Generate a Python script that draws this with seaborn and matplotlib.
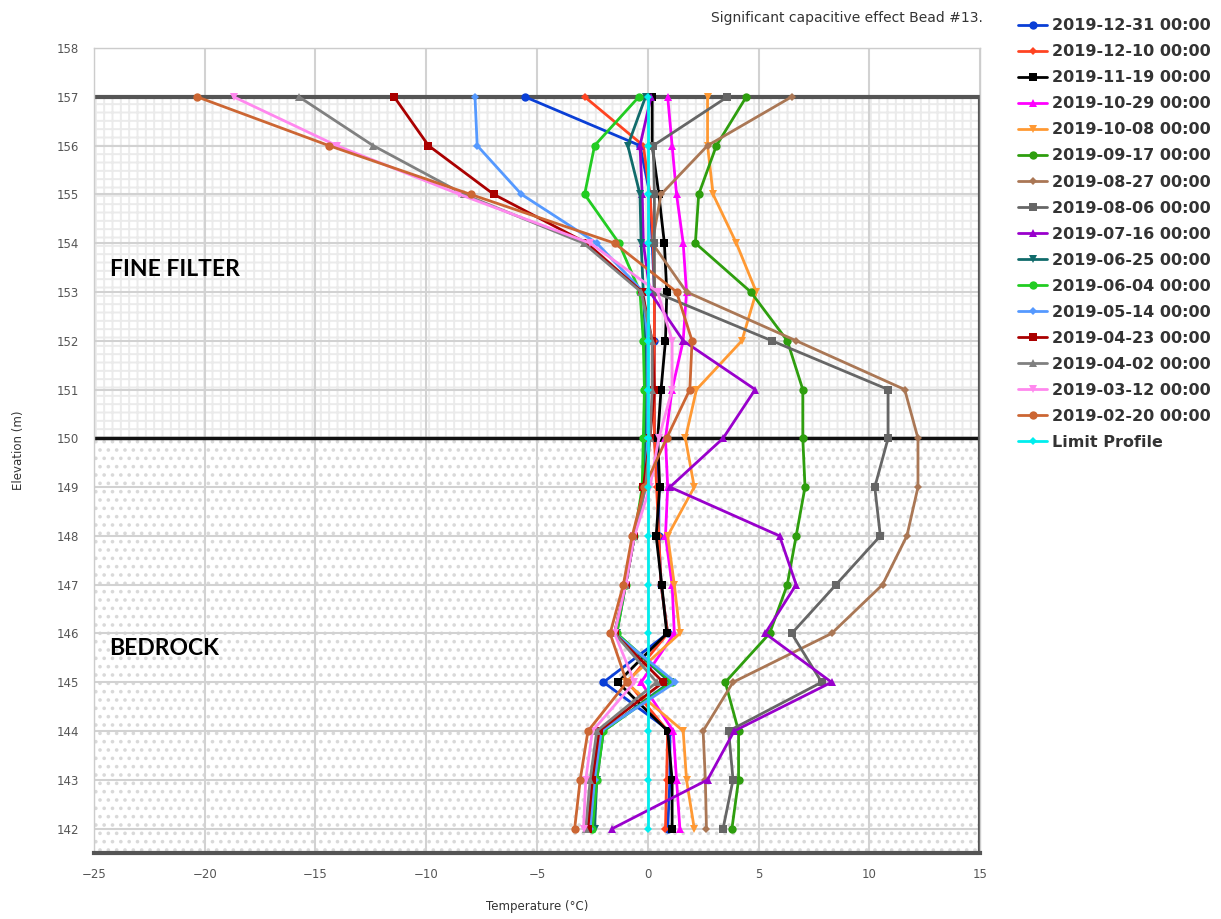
import numpy as np
import pandas as pd
import matplotlib
matplotlib.use('Agg')
import matplotlib.pyplot as plt
import seaborn as sns

# elevations of the beads (m), top to bottom
elevation = [157, 156, 155, 154, 153, 152, 151, 150, 149, 148, 147, 146, 145, 144, 143, 142]

series_names = ['2019-12-31 00:00', '2019-12-10 00:00', '2019-11-19 00:00', '2019-10-29 00:00',
                '2019-10-08 00:00', '2019-09-17 00:00', '2019-08-27 00:00', '2019-08-06 00:00',
                '2019-07-16 00:00', '2019-06-25 00:00', '2019-06-04 00:00', '2019-05-14 00:00',
                '2019-04-23 00:00', '2019-04-02 00:00', '2019-03-12 00:00', '2019-02-20 00:00',
                'Limit Profile']

# temperatures (C), same order as elevation
t_1231 = [-5.55, -0.35, 0.1, 0.2, 0.3, 0.3, 0.3, 0.3, 0.5, 0.5, 0.6, 0.9, -2.0, 1.0, 1.0, 0.9]
t_1210 = [-2.85, -0.2, 0.1, 0.25, 0.3, 0.3, 0.3, 0.3, 0.4, 0.5, 0.6, 0.9, -0.9, 0.9, 0.85, 0.8]
t_1119 = [0.2, 0.2, 0.5, 0.75, 0.86, 0.8, 0.6, 0.45, 0.54, 0.38, 0.63, 0.86, -1.35, 0.9, 1.1, 1.1]
t_1029 = [0.9, 1.1, 1.3, 1.6, 1.75, 1.6, 1.1, 0.8, 0.9, 0.8, 1.1, 1.2, -0.3, 1.15, 1.3, 1.45]
t_1008 = [2.7, 2.7, 2.95, 4.0, 4.9, 4.25, 2.2, 1.7, 2.1, 0.9, 1.2, 1.45, -1.0, 1.6, 1.75, 2.1]
t_0917 = [4.45, 3.1, 2.3, 2.15, 4.65, 6.3, 7.0, 7.0, 7.1, 6.7, 6.3, 5.5, 3.5, 4.1, 4.1, 3.8]
t_0827 = [6.5, 2.7, 0.6, 0.2, 1.75, 6.7, 11.6, 12.2, 12.2, 11.7, 10.6, 8.3, 3.85, 2.5, 2.6, 2.65]
t_0806 = [3.6, 0.25, 0.3, 0.3, 0.3, 5.6, 10.85, 10.85, 10.25, 10.5, 8.5, 6.5, 7.85, 3.65, 3.85, 3.4]
t_0716 = [0.15, -0.35, -0.25, -0.2, 0.1, 1.6, 4.85, 3.4, 1.0, 5.95, 6.7, 5.3, 8.3, 3.9, 2.7, -1.6]
t_0625 = [-0.1, -0.9, -0.35, -0.3, -0.2, -0.1, -0.1, -0.1, -0.2, -0.6, -1.0, -1.4, 1.0, -2.0, -2.3, -2.4]
t_0604 = [-0.4, -2.4, -2.85, -1.3, -0.35, -0.2, -0.15, -0.2, -0.25, -0.6, -1.0, -1.4, 1.1, -2.0, -2.3, -2.5]
t_0514 = [-7.8, -7.7, -5.7, -2.3, -0.2, 0.0, 0.0, 0.0, -0.1, -0.6, -1.0, -1.5, 1.25, -2.1, -2.4, -2.6]
t_0423 = [-11.45, -9.9, -6.95, -2.75, -0.25, 0.2, 0.3, 0.1, -0.2, -0.6, -1.0, -1.5, 0.7, -2.2, -2.5, -2.7]
t_0402 = [-15.75, -12.4, -8.3, -2.9, -0.3, 0.2, 0.2, 0.1, -0.1, -0.6, -1.0, -1.5, 0.4, -2.3, -2.6, -2.8]
t_0312 = [-18.7, -14.05, -8.5, -2.6, 0.45, 1.1, 1.1, 0.5, 0.1, -0.6, -1.0, -1.5, -0.6, -2.5, -2.8, -2.9]
t_0220 = [-20.35, -14.4, -8.0, -1.5, 1.3, 2.0, 1.9, 0.85, -0.15, -0.7, -1.1, -1.7, -0.95, -2.7, -3.05, -3.3]
t_limit = [0, 0, 0, 0, 0, 0, 0, 0, 0, 0, 0, 0, 0, 0, 0, 0]

colors = ['#0a3fd6', '#ff4422', '#000000', '#ff00ff', '#ff9933', '#2e9e0e', '#aa7755', '#666666',
          '#9900cc', '#116b6b', '#22cc22', '#5599ff', '#aa0000', '#808080', '#ff88ee', '#cc6633',
          '#00eeee']
markers = ['o', 'D', 's', '^', 'v', 'o', 'D', 's', '^', 'v', 'o', 'D', 's', '^', 'v', 'o', 'D']

profiles = [t_1231, t_1210, t_1119, t_1029, t_1008, t_0917, t_0827, t_0806, t_0716,
            t_0625, t_0604, t_0514, t_0423, t_0402, t_0312, t_0220, t_limit]

frames = []
for name, temps in zip(series_names, profiles):
    frames.append(pd.DataFrame({'Temperature': temps, 'Elevation': elevation, 'Series': name}))
df = pd.concat(frames, ignore_index=True)

sns.set_style('white')
plt.rcParams['font.family'] = ['DejaVu Sans']
plt.rcParams['hatch.linewidth'] = 1.4

fig = plt.figure(figsize=(12.21, 9.19), dpi=100)
ax = fig.add_axes([94 / 1221, 1 - 853 / 919, (980 - 94) / 1221, (853 - 48) / 919])

ymin, ymax = 141.5, 158
ax.set_xlim(-25, 15)
ax.set_ylim(ymin, ymax)

# layer backgrounds
ax.axhspan(150, 157, facecolor='white', edgecolor='#ebebeb', hatch='++', lw=0, zorder=0)
ax.axhspan(ymin, 150, facecolor='white', edgecolor='#d9d9d9', hatch='..', lw=0, zorder=0)

ax.set_axisbelow(True)
ax.grid(True, color='#d2d2d2', lw=1.5)
ax.set_xticks(range(-25, 16, 5))
ax.set_yticks(range(142, 159))

sns.lineplot(data=df, x='Temperature', y='Elevation', hue='Series', style='Series',
             palette=dict(zip(series_names, colors)), markers=dict(zip(series_names, markers)),
             dashes=False, sort=False, estimator=None, lw=2, markersize=6,
             markeredgewidth=0, ax=ax, zorder=3)

# smaller diamonds, and the limit profile barely shows its markers
for line in ax.lines:
    if line.get_marker() == 'D':
        line.set_markersize(4.5)
    if line.get_label() == 'Limit Profile':
        line.set_markersize(2.5)

# layer boundaries and frame
ax.axhline(157, color='#555555', lw=3, zorder=2)
ax.axhline(150, color='#111111', lw=2.5, zorder=2)
ax.axvline(15, ymin=0, ymax=(157 - ymin) / (ymax - ymin), color='#555555', lw=3, zorder=2)

for side in ['left', 'top', 'right']:
    ax.spines[side].set_color('#cccccc')
    ax.spines[side].set_linewidth(1)
ax.spines['bottom'].set_color('#555555')
ax.spines['bottom'].set_linewidth(3)

ax.tick_params(axis='both', length=0, labelsize=8.5, labelcolor='#555555')
ax.tick_params(axis='y', pad=11)
ax.tick_params(axis='x', pad=11)

ax.set_xlabel('Temperature (°C)', fontsize=8.5, color='#333333')
ax.set_ylabel('Elevation (m)', fontsize=8.5, color='#333333')
ax.xaxis.set_label_coords(0.5, -0.058)
ax.yaxis.set_label_coords(-0.078, 0.5)

ax.text(-24.3, 153.45, 'FINE FILTER', fontsize=16.5, fontweight='bold', family='Lato',
        va='center', ha='left', color='black', zorder=4)
ax.text(-24.3, 145.7, 'BEDROCK', fontsize=16.5, fontweight='bold', family='Lato',
        va='center', ha='left', color='black', zorder=4)

fig.text(983 / 1221, 1 - 18 / 919, 'Significant capacitive effect Bead #13.',
         ha='right', va='center', fontsize=10, color='#333333')

handles, labels = ax.get_legend_handles_labels()
ax.get_legend().remove()
for h in handles:
    if h.get_marker() == 'D':
        h.set_markersize(4.5)
fig.legend(handles, labels, loc='upper left', bbox_to_anchor=(1012 / 1221, 1 - 12 / 919),
           frameon=False, prop=dict(weight='bold', size=11.5), labelspacing=0.69,
           handlelength=1.8, handletextpad=0.3, labelcolor='#333333', borderaxespad=0)

fig.savefig('out.png', dpi=100)
